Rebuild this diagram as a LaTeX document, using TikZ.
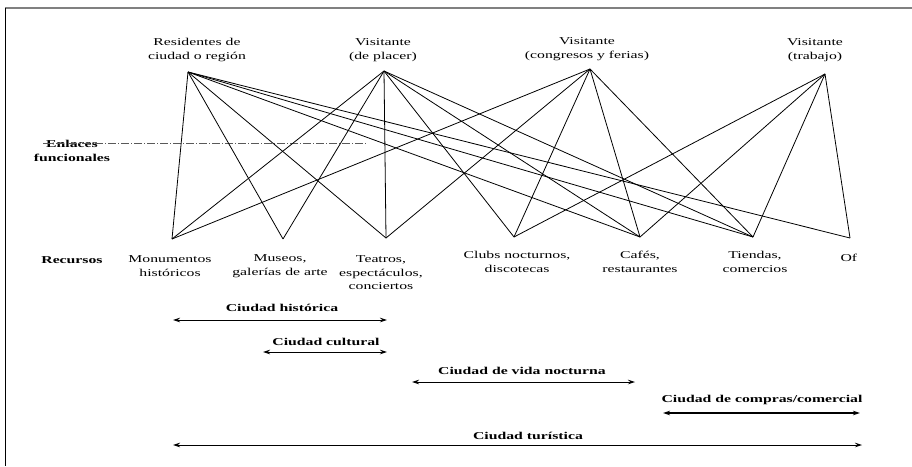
\documentclass[tikz,border=0pt]{standalone}
\usepackage{fontspec}
\setmainfont{Liberation Serif}[FakeStretch=1.5]
\usetikzlibrary{arrows.meta}
\tikzset{%
  user/.style={align=center, font=\fontsize{10.5}{14}\selectfont},% user of the city
  resource/.style={align=center, font=\fontsize{10.5}{13.5}\selectfont},% resource used
  link/.style={line width=0.8pt},% functional link
  city/.style={font=\fontsize{10.5}{14}\selectfont\bfseries},% kind of city
  cityrange/.style={line width=0.8pt, {Stealth[length=7pt,width=4.5pt]}-{Stealth[length=7pt,width=4.5pt]}}% span of resources
}

\begin{document}
\begin{tikzpicture}[x=1pt, y=-1pt]
\useasboundingbox (0,0) rectangle (912,466);
\draw[gray, line width=2pt] (5,8) -- (912,8);
\draw[line width=1pt] (5,8) -- (5,466);

% users
\node[user] (res-l) at (197,50) {Residentes de\\ciudad o región};
\node[user] (pla-l) at (383,50) {Visitante\\(de placer)};
\node[user] (con-l) at (587,49) {Visitante\\(congresos y ferias)};
\node[user] (tra-l) at (815,50) {Visitante\\(trabajo)};
\coordinate (res) at (188,72);
\coordinate (pla) at (384,71);
\coordinate (con) at (590,69);
\coordinate (tra) at (825,74);

% resources
\node[resource, font=\fontsize{10.5}{14}\selectfont\bfseries] (rec) at (72,260) {Recursos};
\node[resource] (mon-l) at (170,266) {Monumentos\\históricos};
\node[resource] (mus-l) at (280,266) {Museos,\\galerías de arte};
\node[resource] (tea-l) at (381,273) {Teatros,\\espectáculos,\\conciertos};
\node[resource] (clu-l) at (517,262) {Clubs nocturnos,\\discotecas};
\node[resource] (caf-l) at (640,262) {Cafés,\\restaurantes};
\node[resource] (tie-l) at (755,262) {Tiendas,\\comercios};
\node[resource, anchor=west] (ofi-l) at (837,258) {Of};
\coordinate (mon) at (172,239);
\coordinate (mus) at (283,239);
\coordinate (tea) at (386,238);
\coordinate (clu) at (514,237);
\coordinate (caf) at (640,237);
\coordinate (tie) at (753,237);
\coordinate (ofi) at (850,238);

% enlaces funcionales
\node[city, align=center] (enl) at (72,151) {Enlaces\\funcionales};
\coordinate (enl-a) at (43,143);
\coordinate (enl-b) at (367,143);
\draw[gray!70!black, line width=0.6pt, dash pattern=on 8pt off 2pt on 1pt off 2pt] (enl-a) -- (enl-b);

\foreach \r in {mon,mus,tea,caf,tie,ofi}
  \draw (res) edge[link] (\r);
\foreach \r in {mon,mus,tea,clu,caf,tie}
  \draw (pla) edge[link] (\r);
\foreach \r in {mon,tea,clu,caf,tie}
  \draw (con) edge[link] (\r);
\foreach \r in {clu,caf,tie,ofi}
  \draw (tra) edge[link] (\r);

% ciudades
\node[city] (his) at (282,308) {Ciudad histórica};
\coordinate (his-a) at (173,320);
\coordinate (his-b) at (387,320);
\draw[cityrange] (his-a) -- (his-b);

\node[city] (cul) at (326,342) {Ciudad cultural};
\coordinate (cul-a) at (263,352);
\coordinate (cul-b) at (387,352);
\draw[cityrange] (cul-a) -- (cul-b);

\node[city] (noc) at (522,371) {Ciudad de vida nocturna};
\coordinate (noc-a) at (412,382);
\coordinate (noc-b) at (635,382);
\draw[cityrange] (noc-a) -- (noc-b);

\node[city] (com) at (762,400) {Ciudad de compras/comercial};
\coordinate (com-a) at (663,413);
\coordinate (com-b) at (860,413);
\draw[cityrange, line width=1.2pt] (com-a) -- (com-b);

\node[city] (tur) at (528,436) {Ciudad turística};
\coordinate (tur-a) at (173,445);
\coordinate (tur-b) at (862,445);
\draw[cityrange] (tur-a) -- (tur-b);

\end{tikzpicture}
\end{document}
